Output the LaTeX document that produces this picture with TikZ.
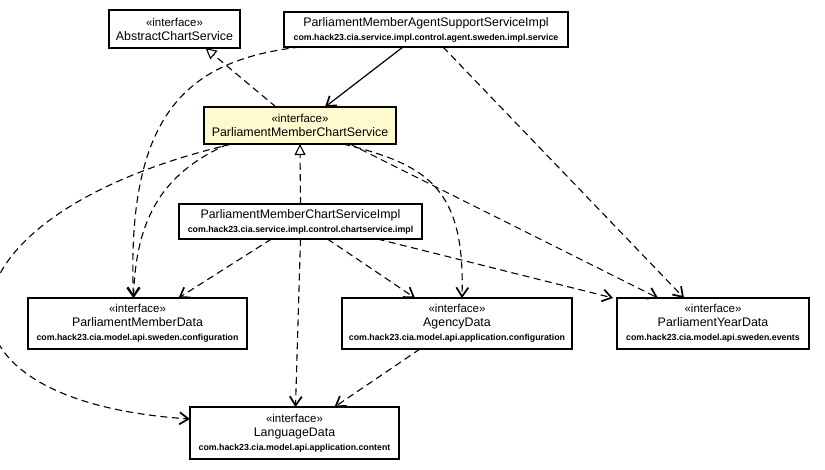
\documentclass[tikz,border=0pt]{standalone}
\usepackage{fontspec}
\setmainfont{Liberation Sans}
\usetikzlibrary{arrows.meta}
\definecolor{ifacegelb}{RGB}{255,250,205}
\newcommand{\pkgname}[1]{{\fontsize{8.8}{13}\selectfont\bfseries #1}}
\newcommand{\stereo}{{\fontsize{11.5}{13.5}\selectfont «interface»}}

\begin{document}
\begin{tikzpicture}[x=1pt, y=-1pt,
	klasse/.style={draw, line width=1.1pt, fill=white, align=center, inner sep=1pt, outer sep=0pt, font=\fontsize{12.4}{14}\selectfont},
	dep/.style={line width=1.1pt, dash pattern=on 7pt off 4.5pt, -{Straight Barb[length=9pt,width=12pt,line width=1.7pt]}},
	real/.style={line width=1.1pt, dash pattern=on 7pt off 4.5pt, -{Triangle[open,length=11pt,width=11pt,line width=1.1pt]}},
	nav/.style={line width=1.2pt, -{Straight Barb[length=9pt,width=12pt,line width=1.7pt]}}]
	\useasboundingbox (0,0) rectangle (825,469);
	
	%Klassen oben
	\node[klasse, minimum width=131pt, minimum height=38pt] (acs) at (174.5, 29) {\stereo\\AbstractChartService};
	\node[klasse, minimum width=284pt, minimum height=35pt] (pmass) at (426, 29.5) {ParliamentMemberAgentSupportServiceImpl\\\pkgname{com.hack23.cia.service.impl.control.agent.sweden.impl.service}};
	\node[klasse, fill=ifacegelb, minimum width=192pt, minimum height=37pt] (pmcs) at (300, 125.5) {\stereo\\ParliamentMemberChartService};
	\node[klasse, minimum width=243pt, minimum height=35pt] (pmcsi) at (300.5, 221.5) {ParliamentMemberChartServiceImpl\\\pkgname{com.hack23.cia.service.impl.control.chartservice.impl}};
	
	%Daten
	\node[klasse, minimum width=219pt, minimum height=51pt] (pmd) at (137.5, 323.5) {\stereo\\ParliamentMemberData\\\pkgname{com.hack23.cia.model.api.sweden.configuration}};
	\node[klasse, minimum width=230pt, minimum height=51pt] (ad) at (457, 323.5) {\stereo\\AgencyData\\\pkgname{com.hack23.cia.model.api.application.configuration}};
	\node[klasse, minimum width=192pt, minimum height=51pt] (pyd) at (713, 323.5) {\stereo\\ParliamentYearData\\\pkgname{com.hack23.cia.model.api.sweden.events}};
	\node[klasse, minimum width=209pt, minimum height=52pt] (ld) at (294.5, 433) {\stereo\\LanguageData\\\pkgname{com.hack23.cia.model.api.application.content}};
	
	%Vererbung
	\draw[real] ([xshift=-24pt]pmcs.north) -- ([xshift=31pt]acs.south);
	\draw[real] (pmcsi.north) -- (pmcs.south);
	
	%Assoziation
	\draw[nav] ([xshift=-23pt]pmass.south) -- ([xshift=25pt]pmcs.north);
	
	%Abhaengigkeiten AgentSupport
	\draw[dep] ([xshift=-126pt]pmass.south) .. controls (190,60) and (126,110) .. ([xshift=-4pt]pmd.north);
	\draw[dep] ([xshift=17pt]pmass.south) -- ([xshift=-29pt]pyd.north);
	
	%Abhaengigkeiten ChartService
	\draw[dep] ([xshift=-68pt]pmcs.south) .. controls (-70,215) and (-95,400) .. ([yshift=14pt]ld.west);
	\draw[dep] ([xshift=-72pt]pmcs.south) .. controls (165,172) and (136,215) .. ([xshift=-4pt]pmd.north);
	\draw[dep] ([xshift=43pt]pmcs.south) .. controls (430,165) and (465,190) .. ([xshift=5pt]ad.north);
	\draw[dep] ([xshift=50pt]pmcs.south) -- ([xshift=-55pt]pyd.north);
	
	%Abhaengigkeiten ChartServiceImpl
	\draw[dep] ([xshift=-29pt]pmcsi.south) -- ([xshift=41pt]pmd.north);
	\draw[dep] (pmcsi.south) -- ([xshift=1pt]ld.north);
	\draw[dep] ([xshift=27pt]pmcsi.south) -- ([xshift=-42pt]ad.north);
	\draw[dep] ([xshift=77pt]pmcsi.south) -- ([xshift=-4pt]pyd.north west);
	
	\draw[dep] ([xshift=-37pt]ad.south) -- ([xshift=40pt]ld.north);
\end{tikzpicture}
\end{document}
